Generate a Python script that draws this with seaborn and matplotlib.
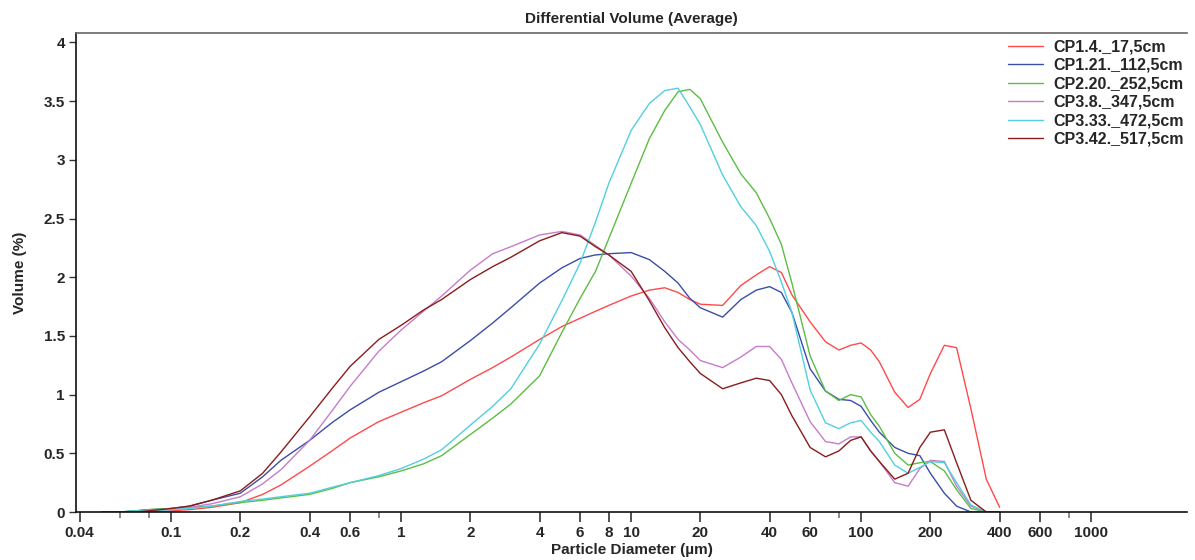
import numpy as np
import pandas as pd
import matplotlib
matplotlib.use("Agg")
import matplotlib.pyplot as plt
import matplotlib.ticker as mticker
import seaborn as sns

# Particle size bins (µm)
diameter = [0.05, 0.06, 0.07, 0.08, 0.1, 0.12, 0.15, 0.2, 0.25, 0.3, 0.4, 0.5, 0.6, 0.8,
            1, 1.25, 1.5, 2, 2.5, 3, 4, 5, 6, 7, 8, 10, 12, 14, 16, 18, 20, 25, 30, 35,
            40, 45, 50, 60, 70, 80, 90, 100, 110, 120, 140, 160, 180, 200, 230, 260,
            300, 350, 400]

# Differential volume (%) per sample
cp1_4 = [0, 0, 0, 0.0, 0.01, 0.02, 0.04, 0.08, 0.15, 0.23, 0.39, 0.52, 0.63, 0.77,
         0.85, 0.93, 0.99, 1.13, 1.23, 1.32, 1.47, 1.58, 1.65, 1.71, 1.76, 1.84, 1.89,
         1.91, 1.87, 1.81, 1.77, 1.76, 1.93, 2.02, 2.09, 2.04, 1.85, 1.62, 1.45, 1.38,
         1.42, 1.44, 1.38, 1.28, 1.02, 0.89, 0.96, 1.18, 1.42, 1.40, 0.88, 0.28, 0.04]
cp1_21 = [0, 0.0, 0.01, 0.02, 0.03, 0.05, 0.10, 0.16, 0.30, 0.44, 0.61, 0.76, 0.87,
          1.02, 1.11, 1.20, 1.28, 1.46, 1.61, 1.74, 1.95, 2.08, 2.16, 2.19, 2.20, 2.21,
          2.15, 2.05, 1.95, 1.82, 1.74, 1.66, 1.81, 1.89, 1.92, 1.87, 1.70, 1.22, 1.03,
          0.96, 0.95, 0.90, 0.78, 0.68, 0.55, 0.50, 0.48, 0.33, 0.16, 0.05, 0, 0, 0]
cp2_20 = [0, 0.0, 0.01, 0.02, 0.03, 0.04, 0.05, 0.08, 0.10, 0.12, 0.15, 0.20, 0.25,
          0.30, 0.35, 0.41, 0.48, 0.66, 0.80, 0.92, 1.16, 1.53, 1.82, 2.05, 2.33, 2.80,
          3.18, 3.42, 3.58, 3.60, 3.52, 3.15, 2.88, 2.72, 2.50, 2.28, 1.95, 1.33, 1.03,
          0.95, 1.00, 0.98, 0.83, 0.73, 0.50, 0.40, 0.42, 0.43, 0.35, 0.19, 0.03, 0, 0]
cp3_8 = [0, 0, 0, 0.01, 0.02, 0.04, 0.07, 0.13, 0.24, 0.36, 0.61, 0.86, 1.07, 1.37,
         1.55, 1.71, 1.84, 2.06, 2.20, 2.26, 2.36, 2.39, 2.36, 2.27, 2.19, 2.01, 1.82,
         1.62, 1.47, 1.38, 1.29, 1.23, 1.32, 1.41, 1.41, 1.30, 1.10, 0.77, 0.60, 0.58,
         0.64, 0.64, 0.52, 0.43, 0.25, 0.22, 0.37, 0.44, 0.43, 0.22, 0.05, 0, 0]
cp3_33 = [0, 0.0, 0.01, 0.01, 0.02, 0.03, 0.05, 0.09, 0.11, 0.13, 0.16, 0.21, 0.25,
          0.31, 0.37, 0.45, 0.53, 0.74, 0.90, 1.05, 1.43, 1.80, 2.12, 2.47, 2.80, 3.25,
          3.48, 3.59, 3.61, 3.45, 3.30, 2.87, 2.60, 2.44, 2.22, 1.96, 1.70, 1.04, 0.76,
          0.71, 0.76, 0.78, 0.68, 0.60, 0.40, 0.33, 0.38, 0.43, 0.42, 0.25, 0.06, 0, 0]
cp3_42 = [0, 0, 0.0, 0.01, 0.03, 0.05, 0.10, 0.18, 0.33, 0.51, 0.81, 1.05, 1.24, 1.47,
          1.59, 1.72, 1.81, 1.98, 2.09, 2.17, 2.31, 2.38, 2.35, 2.26, 2.19, 2.05, 1.80,
          1.57, 1.40, 1.28, 1.18, 1.05, 1.10, 1.14, 1.12, 1.00, 0.82, 0.55, 0.47, 0.52,
          0.61, 0.64, 0.52, 0.43, 0.28, 0.33, 0.55, 0.68, 0.70, 0.42, 0.10, 0, 0]

samples = ["CP1.4._17,5cm", "CP1.21._112,5cm", "CP2.20._252,5cm",
           "CP3.8._347,5cm", "CP3.33._472,5cm", "CP3.42._517,5cm"]
series = [cp1_4, cp1_21, cp2_20, cp3_8, cp3_33, cp3_42]
colors = ["#ff4a4a", "#3a4ea8", "#5cbd45", "#c77cc9", "#52cfe0", "#8a1c1c"]

# Axis ticks
major_ticks = [0.04, 0.1, 0.2, 0.4, 0.6, 1, 2, 4, 6, 8, 10, 20, 40, 60, 100, 200,
               400, 600, 1000]
major_labels = ["0.04", "0.1", "0.2", "0.4", "0.6", "1", "2", "4", "6", "8", "10",
                "20", "40", "60", "100", "200", "400", "600", "1000"]
minor_ticks = [0.06, 0.08, 0.8, 80, 800]
y_ticks = [0, 0.5, 1, 1.5, 2, 2.5, 3, 3.5, 4]
y_labels = ["0", "0.5", "1", "1.5", "2", "2.5", "3", "3.5", "4"]

frames = []
for name, vals in zip(samples, series):
    frames.append(pd.DataFrame({"Diameter": diameter, "Volume": vals, "Sample": name}))
df = pd.concat(frames, ignore_index=True)

sns.set_style("white")
plt.rcParams["font.family"] = ["Liberation Sans", "DejaVu Sans"]
plt.rcParams["font.weight"] = "bold"

fig = plt.figure(figsize=(11.95, 5.6), dpi=100)
ax = fig.add_axes([0.0636, 0.0857, 0.9297, 0.8553])

sns.lineplot(data=df, x="Diameter", y="Volume", hue="Sample", hue_order=samples,
             palette=dict(zip(samples, colors)), estimator=None, sort=False,
             linewidth=1.0, ax=ax)

ax.set_xscale("log")
ax.set_xlim(0.0386, 2610)
ax.set_ylim(0, 4.08)

ax.xaxis.set_major_locator(mticker.FixedLocator(major_ticks))
ax.xaxis.set_major_formatter(mticker.FixedFormatter(major_labels))
ax.xaxis.set_minor_locator(mticker.FixedLocator(minor_ticks))
ax.xaxis.set_minor_formatter(mticker.NullFormatter())
ax.set_yticks(y_ticks)
ax.set_yticklabels(y_labels)

ax.tick_params(axis="x", which="major", direction="out", length=7, width=1.2,
               color="#333333", labelsize=11, pad=3, bottom=True)
ax.tick_params(axis="x", which="minor", direction="out", length=4, width=1.2,
               color="#777777", bottom=True)
ax.tick_params(axis="y", which="major", direction="out", length=5, width=1.0,
               color="#333333", labelsize=11, pad=3, left=True)
for lab in ax.get_xticklabels() + ax.get_yticklabels():
    lab.set_fontweight("bold")

for side in ["left", "bottom"]:
    ax.spines[side].set_color("#111111")
    ax.spines[side].set_linewidth(1.2)
ax.spines["top"].set_color("#666666")
ax.spines["top"].set_linewidth(1.2)
ax.spines["right"].set_visible(False)

ax.set_title("Differential Volume (Average)", fontsize=11, fontweight="bold", pad=7)
ax.set_xlabel("Particle Diameter (µm)", fontsize=11, fontweight="bold", labelpad=2)
ax.set_ylabel("Volume (%)", fontsize=11, fontweight="bold", labelpad=12)

leg = ax.legend(loc="upper right", bbox_to_anchor=(1.0025, 1.0), frameon=False,
                fontsize=11.5, handlelength=2.2, handletextpad=0.6, labelspacing=0.22,
                borderaxespad=0)
for t in leg.get_texts():
    t.set_fontweight("bold")

fig.savefig("out.png", dpi=100)
